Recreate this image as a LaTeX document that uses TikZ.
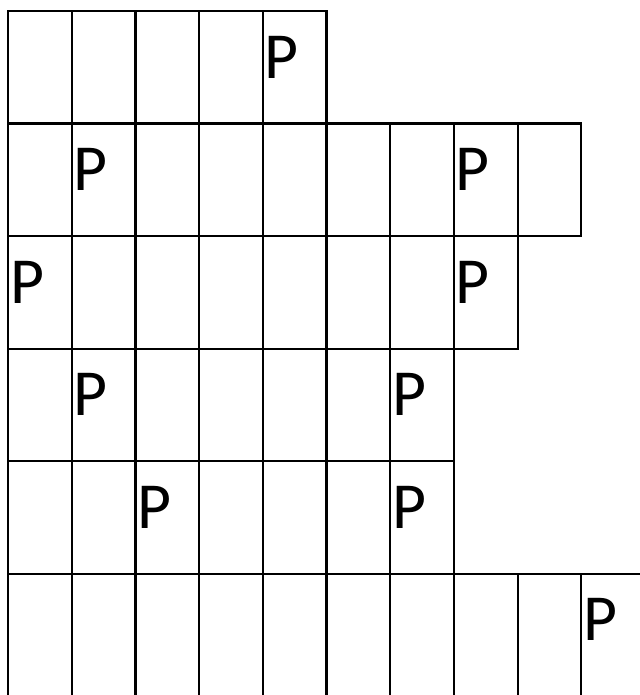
\documentclass[tikz,border=0pt]{standalone}
\usepackage{fontspec}
\setmainfont{Carlito}
\begin{document}
\begin{tikzpicture}[x=1bp,y=-1bp,
  cell/.style={draw,line width=2.2bp,rectangle,minimum width=63.7bp,minimum height=112.55bp,inner sep=0pt,outer sep=0pt,anchor=north west},
  plabel/.style={anchor=base west,inner sep=0pt,outer sep=0pt,font=\fontsize{66}{66}\selectfont}]
\clip (0,0) rectangle (640,695);
\foreach \r/\n in {1/5,2/9,3/8,4/7,5/7}{
  \foreach \k in {1,...,\n}{
    \node[cell] (c\r-\k) at ({8+63.7*(\k-1)},{11+112.55*(\r-1)}) {};
  }
}
\foreach \k in {1,...,9}{
  \node[cell,minimum height=140bp] (c6-\k) at ({8+63.7*(\k-1)},{11+112.55*5}) {};
}
\node[cell,minimum height=140bp,minimum width=100bp] (c6-10) at ({8+63.7*9},{11+112.55*5}) {};
\foreach \c [count=\i] in {c1-5,c2-2,c2-8,c3-1,c3-8,c4-2,c4-7,c5-3,c5-7,c6-10}{
  \node[plabel,xshift=2bp,yshift=-67bp] (p\i) at (\c.north west) {P};
}
\end{tikzpicture}
\end{document}
